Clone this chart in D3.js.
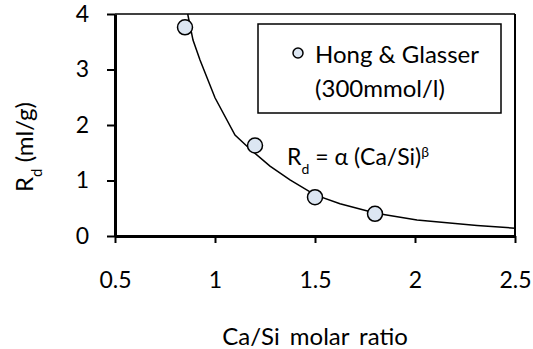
<!DOCTYPE html>
<html>
<head>
<meta charset="utf-8">
<script src="https://cdn.jsdelivr.net/npm/d3@7"></script>
<style>
  body { margin: 0; background: #fff; }
  text { font-family: Lato, "Noto Sans", sans-serif; fill: #000; }
</style>
</head>
<body>
<div id="chart"></div>
<script>
// measured points (Hong & Glasser, 300 mmol/l)
const caSi = [0.85, 1.2, 1.5, 1.8];
const rdVals = [3.76, 1.63, 0.70, 0.40];

// fitted curve
const fitX = [0.8635, 0.89, 0.925, 1.0, 1.1, 1.18, 1.275, 1.375, 1.5, 1.625, 1.805, 2.01, 2.31, 2.5];
const fitY = [4.0, 3.53, 3.17, 2.49, 1.82, 1.55, 1.26, 1.01, 0.74, 0.58, 0.41, 0.29, 0.19, 0.14];

const xTicks = [0.5, 1, 1.5, 2, 2.5];
const yTicks = [0, 1, 2, 3, 4];

var margin = {top: 14, right: 18, bottom: 113, left: 115},
    width = 533 - margin.left - margin.right,
    height = 349 - margin.top - margin.bottom;

var xScale = d3.scaleLinear().domain([0.5, 2.5]).range([0, width]);
var yScale = d3.scaleLinear().domain([0, 4]).range([height, 0]);

var svg = d3.select("#chart").append("svg")
    .attr("width", 533)
    .attr("height", 349)
    .append("g")
    .attr("transform", "translate(" + margin.left + "," + margin.top + ")");

// top and right frame
svg.append("line")
    .attr("x1", 0).attr("x2", width).attr("y1", 0).attr("y2", 0)
    .attr("stroke", "#000").attr("stroke-width", 1.5);
svg.append("line")
    .attr("x1", width).attr("x2", width).attr("y1", 0).attr("y2", height)
    .attr("stroke", "#000").attr("stroke-width", 2);

var xAxis = d3.axisBottom(xScale)
    .tickValues(xTicks)
    .tickSize(7)
    .tickSizeOuter(0)
    .tickPadding(29)
    .tickFormat(d3.format(""));

var yAxis = d3.axisLeft(yScale)
    .tickValues(yTicks)
    .tickSize(8)
    .tickSizeOuter(0)
    .tickPadding(18)
    .tickFormat(d3.format("d"));

var gx = svg.append("g")
    .attr("transform", "translate(0," + height + ")")
    .call(xAxis);
var gy = svg.append("g").call(yAxis);

[gx, gy].forEach(g => {
    g.select(".domain").attr("stroke", "#000").attr("stroke-width", 3);
    g.selectAll(".tick line").attr("stroke", "#000").attr("stroke-width", 2);
    g.selectAll(".tick text").style("font-size", "23px").style("font-family", "Lato, 'Noto Sans', sans-serif");
});

// fitted curve
const fitData = fitX.map((x, i) => ({x: x, y: fitY[i]}));
const line = d3.line()
    .x(d => xScale(d.x))
    .y(d => yScale(d.y));

svg.append("path")
    .attr("d", line(fitData))
    .attr("fill", "none")
    .attr("stroke", "#000")
    .attr("stroke-width", 1.5);

// data points
svg.selectAll("circle.pt")
    .data(caSi.map((x, i) => ({x: x, y: rdVals[i]})))
    .join("circle")
    .attr("class", "pt")
    .attr("cx", d => xScale(d.x))
    .attr("cy", d => yScale(d.y))
    .attr("r", 7.5)
    .attr("fill", "#dce6f2")
    .attr("stroke", "#000")
    .attr("stroke-width", 1.5);

// legend
const leg = svg.append("g").attr("transform", "translate(" + (258 - margin.left) + "," + (24 - margin.top) + ")");
leg.append("rect")
    .attr("width", 243).attr("height", 89)
    .attr("fill", "#fff").attr("stroke", "#000").attr("stroke-width", 1.5);
leg.append("circle")
    .attr("cx", 40).attr("cy", 29).attr("r", 5)
    .attr("fill", "#dce6f2").attr("stroke", "#000").attr("stroke-width", 1.5);
leg.append("text")
    .attr("x", 57).attr("y", 39)
    .style("font-size", "24px")
    .text("Hong & Glasser");
leg.append("text")
    .attr("x", 122).attr("y", 73)
    .attr("text-anchor", "middle")
    .style("font-size", "24px")
    .text("(300mmol/l)");

// equation
const eq = svg.append("text")
    .attr("x", 287 - margin.left).attr("y", 165 - margin.top)
    .style("font-size", "23px");
eq.append("tspan").text("R");
eq.append("tspan").attr("baseline-shift", "sub").style("font-size", "14px").text("d");
eq.append("tspan").text(" = α (Ca/Si)");
eq.append("tspan").attr("baseline-shift", "super").style("font-size", "14px").text("β");

// axis titles
svg.append("text")
    .attr("x", width / 2).attr("y", 345 - margin.top)
    .attr("text-anchor", "middle")
    .style("font-size", "24px")
    .style("word-spacing", "4px")
    .text("Ca/Si molar ratio");

const yl = svg.append("text")
    .attr("transform", "translate(" + (33 - margin.left) + "," + (147 - margin.top) + ") rotate(-90)")
    .attr("text-anchor", "middle")
    .style("font-size", "24px");
yl.append("tspan").text("R");
yl.append("tspan").attr("baseline-shift", "sub").style("font-size", "15px").text("d");
yl.append("tspan").text(" (ml/g)");
</script>
</body>
</html>
